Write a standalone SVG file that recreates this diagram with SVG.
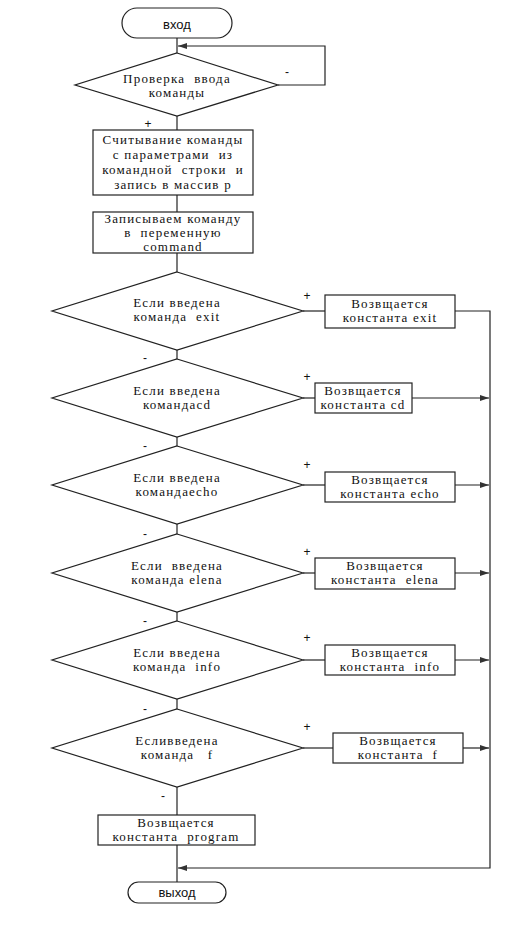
<svg xmlns="http://www.w3.org/2000/svg" width="509" height="927" viewBox="0 0 509 927">
<style>
.s{fill:#fff;stroke:#222;stroke-width:1.2}
.c{fill:none;stroke:#222;stroke-width:1.2}
.t{font-family:"Liberation Serif","Times New Roman",serif;font-size:13px;letter-spacing:1.2px;fill:#111;text-anchor:middle;white-space:pre}
.ts{font-family:"Liberation Sans",Arial,sans-serif;font-size:13px;fill:#111;text-anchor:middle}
.l{font-family:"Liberation Sans",Arial,sans-serif;font-size:12px;fill:#111;text-anchor:middle}
</style>
<defs>
<marker id="a" markerWidth="10" markerHeight="8" refX="9" refY="4" orient="auto" markerUnits="userSpaceOnUse">
<path d="M0,1 L9,4 L0,7 Z" fill="#333"/>
</marker>
</defs>
<rect width="509" height="927" fill="#fff"/>
<g id="connectors">
<path class="c" d="M177,38 V53"/>
<path class="c" d="M278,85 H325 V46 H178" marker-end="url(#a)"/>
<path class="c" d="M177,116 V130"/>
<path class="c" d="M177,195 V212"/>
<path class="c" d="M177,253 V272"/>
<path class="c" d="M177,350 V359"/>
<path class="c" d="M177,437 V446"/>
<path class="c" d="M177,524 V534"/>
<path class="c" d="M177,612 V621"/>
<path class="c" d="M177,699 V709"/>
<path class="c" d="M177,787 V815"/>
<path class="c" d="M177,845 V882"/>
<path class="c" d="M303,311 H325"/>
<path class="c" d="M303,398 H315"/>
<path class="c" d="M303,485 H325"/>
<path class="c" d="M303,573 H315"/>
<path class="c" d="M303,660 H325"/>
<path class="c" d="M303,748 H333"/>
<path class="c" d="M455,311 H490 V868 H178" marker-end="url(#a)"/>
<path class="c" d="M412,398 H489" marker-end="url(#a)"/>
<path class="c" d="M455,485 H489" marker-end="url(#a)"/>
<path class="c" d="M455,573 H489" marker-end="url(#a)"/>
<path class="c" d="M455,660 H489" marker-end="url(#a)"/>
<path class="c" d="M463,748 H489" marker-end="url(#a)"/>
<text class="l" x="287" y="76">-</text>
<text class="l" x="148" y="128">+</text>
<text class="l" x="307" y="300">+</text>
<text class="l" x="145" y="362">-</text>
<text class="l" x="307" y="381">+</text>
<text class="l" x="145" y="450">-</text>
<text class="l" x="307" y="469">+</text>
<text class="l" x="145" y="538">-</text>
<text class="l" x="307" y="556">+</text>
<text class="l" x="145" y="625">-</text>
<text class="l" x="307" y="642">+</text>
<text class="l" x="145" y="713">-</text>
<text class="l" x="307" y="731">+</text>
<text class="l" x="163" y="800">-</text>
</g>
<g id="start">
<rect class="s" x="122" y="8" width="110" height="30" rx="15"/>
<text class="ts" x="177" y="29">вход</text>
</g>
<g id="check">
<path class="s" d="M177,53 L278,85 L177,116 L75,85 Z"/>
<text class="t" x="177" y="83">Проверка  ввода</text>
<text class="t" x="177" y="97">команды</text>
</g>
<g id="read">
<rect class="s" x="93" y="130" width="160" height="65"/>
<text class="t" x="173" y="144">Считывание команды</text>
<text class="t" x="173" y="159">с параметрами  из</text>
<text class="t" x="173" y="174">командной  строки  и</text>
<text class="t" x="173" y="189">запись в массив р</text>
</g>
<g id="store">
<rect class="s" x="93" y="212" width="160" height="41"/>
<text class="t" x="173" y="223">Записываем команду</text>
<text class="t" x="173" y="237">в  переменную</text>
<text class="t" x="173" y="251">command</text>
</g>
<g id="d1">
<path class="s" d="M177,272 L303,311 L177,350 L52,311 Z"/>
<text class="t" x="177" y="307">Если введена</text>
<text class="t" x="177" y="321">команда  exit</text>
</g>
<g id="b1">
<rect class="s" x="325" y="295" width="130" height="33"/>
<text class="t" x="390" y="308">Возвщается</text>
<text class="t" x="390" y="322">константа exit</text>
</g>
<g id="d2">
<path class="s" d="M177,359 L303,398 L177,437 L52,398 Z"/>
<text class="t" x="177" y="395">Если введена</text>
<text class="t" x="177" y="409">командаcd</text>
</g>
<g id="b2">
<rect class="s" x="315" y="383" width="97" height="30"/>
<text class="t" x="363" y="395">Возвщается</text>
<text class="t" x="363" y="409">константа cd</text>
</g>
<g id="d3">
<path class="s" d="M177,446 L303,485 L177,524 L52,485 Z"/>
<text class="t" x="177" y="482">Если введена</text>
<text class="t" x="177" y="496">командаecho</text>
</g>
<g id="b3">
<rect class="s" x="325" y="472" width="130" height="30"/>
<text class="t" x="390" y="484">Возвщается</text>
<text class="t" x="390" y="498">константа echo</text>
</g>
<g id="d4">
<path class="s" d="M177,534 L303,573 L177,612 L52,573 Z"/>
<text class="t" x="177" y="570">Если  введена</text>
<text class="t" x="177" y="584">команда elena</text>
</g>
<g id="b4">
<rect class="s" x="315" y="558" width="140" height="31"/>
<text class="t" x="385" y="570">Возвщается</text>
<text class="t" x="385" y="584">константа  elena</text>
</g>
<g id="d5">
<path class="s" d="M177,621 L303,660 L177,699 L52,660 Z"/>
<text class="t" x="177" y="657">Если введена</text>
<text class="t" x="177" y="671">команда  info</text>
</g>
<g id="b5">
<rect class="s" x="325" y="645" width="130" height="30"/>
<text class="t" x="390" y="657">Возвщается</text>
<text class="t" x="390" y="671">константа  info</text>
</g>
<g id="d6">
<path class="s" d="M177,709 L303,748 L177,787 L52,748 Z"/>
<text class="t" x="177" y="745">Есливведена</text>
<text class="t" x="177" y="759">команда   f</text>
</g>
<g id="b6">
<rect class="s" x="333" y="733" width="130" height="30"/>
<text class="t" x="398" y="745">Возвщается</text>
<text class="t" x="398" y="759">константа  f</text>
</g>
<g id="bprog">
<rect class="s" x="98" y="815" width="157" height="30"/>
<text class="t" x="176" y="827">Возвщается</text>
<text class="t" x="176" y="841">константа  program</text>
</g>
<g id="end">
<rect class="s" x="128" y="882" width="98" height="21" rx="10.5"/>
<text class="ts" x="177" y="897">выход</text>
</g>
</svg>
